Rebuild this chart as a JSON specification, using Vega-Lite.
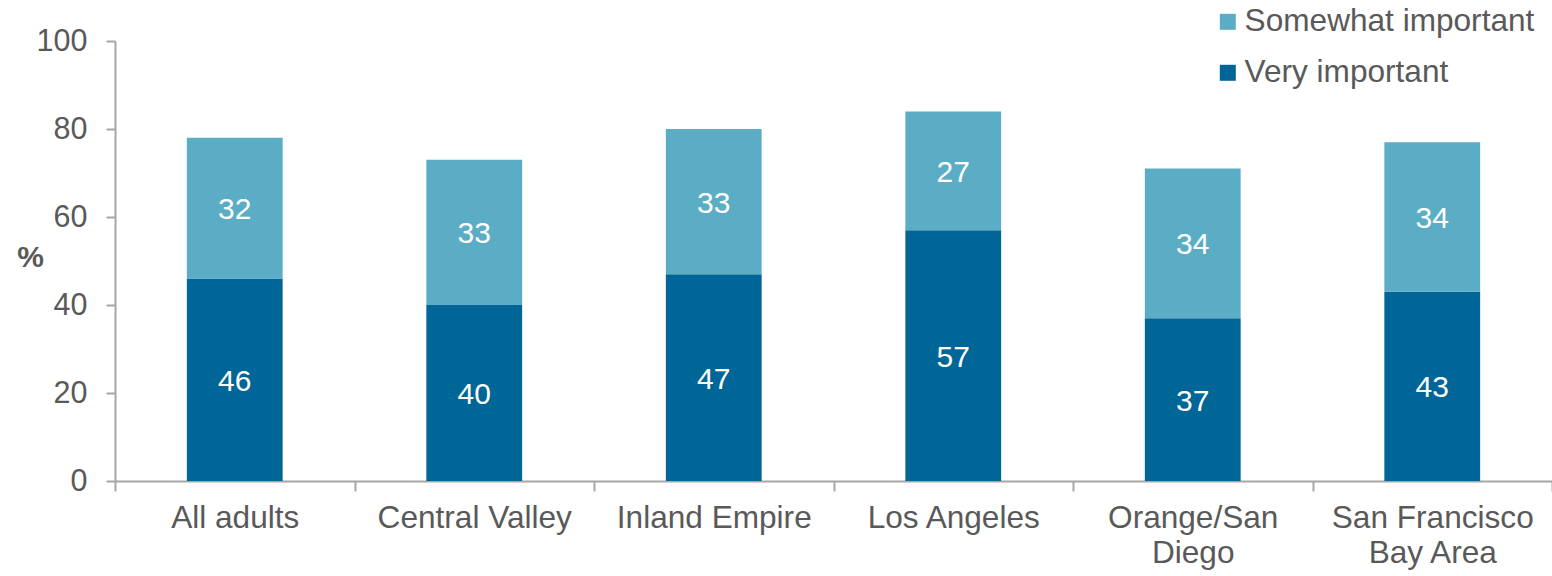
{
  "$schema": "https://vega.github.io/schema/vega-lite/v6.json",
  "autosize": {"type": "none"},
  "padding": {"left": 115, "top": 41, "right": 0, "bottom": 95},
  "width": 1437,
  "height": 440,
  "background": "white",
  "config": {
    "font": "Liberation Sans",
    "view": {"stroke": null},
    "axis": {"grid": false}
  },
  "data": {
    "values": [
      {"region": "All adults", "series": "Very important", "value": 46},
      {"region": "All adults", "series": "Somewhat important", "value": 32},
      {"region": "Central Valley", "series": "Very important", "value": 40},
      {"region": "Central Valley", "series": "Somewhat important", "value": 33},
      {"region": "Inland Empire", "series": "Very important", "value": 47},
      {"region": "Inland Empire", "series": "Somewhat important", "value": 33},
      {"region": "Los Angeles", "series": "Very important", "value": 57},
      {"region": "Los Angeles", "series": "Somewhat important", "value": 27},
      {"region": "Orange/San Diego", "series": "Very important", "value": 37},
      {"region": "Orange/San Diego", "series": "Somewhat important", "value": 34},
      {"region": "San Francisco Bay Area", "series": "Very important", "value": 43},
      {"region": "San Francisco Bay Area", "series": "Somewhat important", "value": 34}
    ]
  },
  "encoding": {
    "x": {
      "field": "region",
      "type": "nominal",
      "sort": null,
      "scale": {"paddingInner": 0, "paddingOuter": 0},
      "axis": {
        "title": null,
        "labelAngle": 0,
        "labelFontSize": 31.6,
        "labelColor": "#595959",
        "labelPadding": 11,
        "labelLineHeight": 35,
        "labelLimit": 0,
        "labelExpr": "datum.label == 'Orange/San Diego' ? ['Orange/San', 'Diego'] : datum.label == 'San Francisco Bay Area' ? ['San Francisco', 'Bay Area'] : datum.label",
        "tickBand": "extent",
        "tickSize": 10,
        "tickColor": "#A6A6A6",
        "tickWidth": 2,
        "domainColor": "#A6A6A6",
        "domainWidth": 2
      }
    }
  },
  "layer": [
    {
      "mark": {"type": "bar", "width": {"band": 0.4}},
      "encoding": {
        "y": {
          "field": "value",
          "type": "quantitative",
          "stack": "zero",
          "scale": {"domain": [0, 100]},
          "axis": {
            "values": [0, 20, 40, 60, 80, 100],
            "title": "%",
            "titleAngle": 0,
            "titleFontSize": 30,
            "titleFontWeight": "bold",
            "titleColor": "#595959",
            "titleAlign": "center",
            "titleBaseline": "middle",
            "titleX": -85,
            "titleY": 216,
            "labelFontSize": 30.5,
            "labelColor": "#595959",
            "labelPadding": 19,
            "tickSize": 9,
            "tickColor": "#A6A6A6",
            "tickWidth": 2,
            "domainColor": "#A6A6A6",
            "domainWidth": 2
          }
        },
        "color": {
          "field": "series",
          "type": "nominal",
          "scale": {
            "domain": ["Somewhat important", "Very important"],
            "range": ["#5BADC6", "#006597"]
          },
          "legend": {
            "title": null,
            "orient": "none",
            "legendX": 1097,
            "legendY": -35,
            "symbolType": "square",
            "symbolSize": 256,
            "symbolStrokeWidth": 0,
            "labelFontSize": 31.6,
            "labelColor": "#595959",
            "labelOffset": 1,
            "labelLimit": 0,
            "rowPadding": 18,
            "padding": 0
          }
        },
        "order": {"field": "series", "sort": "descending"}
      }
    },
    {
      "transform": [
        {"stack": "value", "groupby": ["region"], "sort": [{"field": "series", "order": "descending"}], "as": ["v0", "v1"]},
        {"fold": ["v0", "v1"], "as": ["edge", "pos"]}
      ],
      "mark": {"type": "text", "color": "white", "fontSize": 30, "align": "center", "baseline": "middle", "dy": 2},
      "encoding": {
        "y": {"field": "pos", "aggregate": "mean", "type": "quantitative", "stack": null},
        "text": {"field": "value", "type": "quantitative"},
        "detail": {"field": "series"}
      }
    }
  ]
}
